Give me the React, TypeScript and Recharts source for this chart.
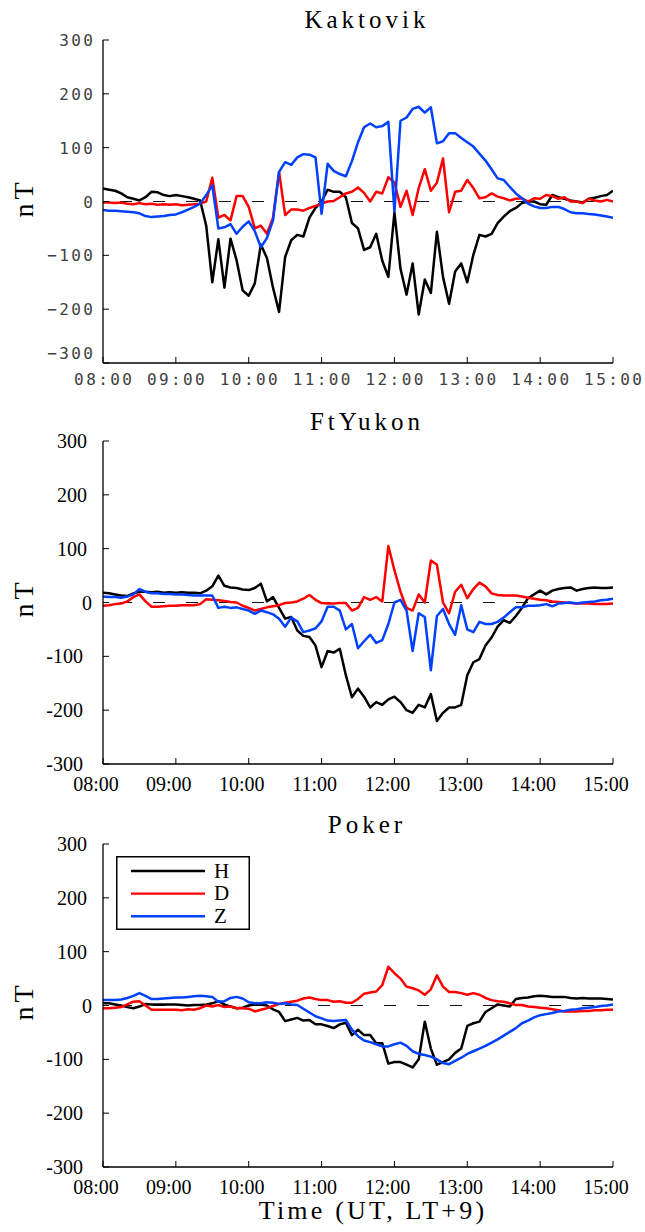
import { LineChart, Line, XAxis, YAxis, ReferenceLine, Legend } from "recharts"

// minutes after 08:00 UT, 5-minute samples
const minutes = Array.from({ length: 85 }, (_, i) => i * 5)
const hourTicks = [0, 60, 120, 180, 240, 300, 360, 420]
const hourLabels = ["08:00", "09:00", "10:00", "11:00", "12:00", "13:00", "14:00", "15:00"]
const nTTicks = [-300, -200, -100, 0, 100, 200, 300]
const seriesNames = ["H", "D", "Z"]
const seriesColors = ["#000000", "#ff0000", "#0040ff"]

const kakH = [
  24, 22, 20, 15, 8, 5, 2, 8, 18, 17, 12, 10,
  12, 10, 8, 5, 2, -45, -150, -70, -160, -69, -109, -165,
  -175, -152, -80, -105, -160, -205, -103, -72, -62, -65, -30, -12,
  0, 22, 18, 18, 8, -40, -50, -90, -85, -60, -110, -140,
  -20, -125, -173, -115, -210, -145, -170, -56, -140, -190, -130, -115,
  -150, -99, -62, -65, -60, -40, -28, -18, -12, -3, 0, 0,
  -5, -6, 12, 8, 5, 2, 0, -2, 5, 7, 10, 12,
  20,
]
const kakD = [
  -2, -2, -3, -2, -4, -5, -3, -5, -4, -6, -5, -6,
  -5, -7, -6, -5, -4, 0, 44, -30, -25, -35, 10, 10,
  -10, -50, -45, -60, -30, 55, -25, -15, -15, -17, -12, -8,
  -4, 0, 1, 8, 15, 18, 26, 16, 0, 18, 15, 45,
  35, -10, 20, -25, 25, 60, 20, 35, 80, -20, 18, 20,
  40, 25, 6, 8, 15, 9, 6, 2, 5, 6, 0, 6,
  5, 12, 10, 5, 8, 0, 0, -3, 5, 2, 0, 3,
  0,
]
const kakZ = [
  -16, -17, -17, -18, -19, -20, -22, -27, -29, -28, -27, -25,
  -24, -20, -15, -10, -4, 12, 30, -50, -48, -42, -60, -47,
  -37, -55, -85, -68, -35, 55, 73, 68, 82, 88, 87, 82,
  -23, 70, 57, 51, 47, 75, 110, 138, 145, 138, 140, 148,
  -19, 150, 156, 172, 176, 165, 175, 108, 112, 127, 127, 118,
  110, 102, 89, 76, 60, 43, 40, 27, 15, 6, -4, -9,
  -12, -12, -10, -10, -14, -20, -22, -22, -23, -24, -26, -28,
  -30,
]

const ftyH = [
  18, 17, 15, 13, 12, 17, 20, 20, 19, 20, 18, 19,
  18, 19, 18, 18, 17, 22, 30, 50, 31, 28, 27, 24,
  23, 27, 35, 2, 10, -10, -30, -27, -52, -62, -64, -80,
  -120, -90, -93, -86, -135, -176, -160, -175, -195, -185, -190, -180,
  -175, -185, -200, -205, -190, -195, -170, -220, -205, -195, -195, -190,
  -135, -111, -105, -80, -65, -45, -33, -38, -25, -10, 8, 15,
  22, 15, 22, 25, 27, 28, 22, 25, 27, 28, 27, 27,
  28,
]
const ftyD = [
  -6, -5, -3, -2, 2, 10, 15, 2, -8, -8, -7, -6,
  -6, -5, -5, -5, -3, 6, 5, 4, 3, 1, 0, -6,
  -10, -15, -12, -9, -7, -5, -1, 0, 2, 7, 14, 5,
  -1, -2, -2, -1, -1, -15, -10, 10, 5, 10, 2, 105,
  60, 20, -10, -15, 15, 0, 78, 70, 0, -20, 20, 33,
  8, 25, 37, 30, 17, 14, 13, 13, 13, 11, 9, 7,
  5, 4, 2, 1, 0, -1, -2, -2, -2, -3, -3, -3,
  -2,
]
const ftyZ = [
  11, 10, 10, 9, 11, 15, 25, 20, 17, 17, 16, 16,
  15, 15, 14, 13, 13, 13, 13, -10, -8, -10, -9, -12,
  -15, -21, -15, -18, -22, -30, -45, -28, -35, -55, -52, -48,
  -35, -8, -8, -15, -50, -40, -85, -72, -60, -75, -70, -40,
  0, 5, -15, -90, -20, -27, -126, -25, -12, -40, -60, -5,
  -50, -55, -36, -40, -40, -36, -28, -18, -9, -9, -6, -6,
  -5, -3, -7, -2, -1, 0, -2, 0, 1, 2, 4, 5,
  7,
]

const pokH = [
  4, 4, 2, 0, -3, -5, -2, 3, 2, 2, 2, 2,
  2, 1, 0, 1, 1, 2, 4, 8, 2, -2, -5, -4,
  0, 2, 2, 0, -7, -12, -29, -26, -23, -28, -27, -35,
  -35, -38, -42, -35, -32, -55, -45, -55, -55, -70, -70, -108,
  -105, -105, -110, -115, -100, -30, -80, -110, -105, -100, -88, -80,
  -38, -33, -30, -12, -5, 2, 0, -2, 12, 14, 15, 17,
  18, 17, 16, 16, 16, 14, 13, 14, 13, 13, 13, 12,
  11,
]
const pokD = [
  -5, -5, -4, -3, 2, 7, 8, 0, -8, -8, -8, -8,
  -8, -9, -7, -8, -5, 0, -2, 1, -3, -2, -5, -5,
  -6, -11, -8, -5, -1, 3, 5, 7, 9, 13, 15, 12,
  10, 10, 7, 8, 5, 5, 12, 22, 24, 26, 38, 72,
  60, 50, 35, 32, 28, 20, 30, 56, 35, 25, 25, 23,
  20, 23, 20, 14, 10, 8, 7, 4, 1, 1, -2, -3,
  -4, -5, -7, -9, -11, -11, -11, -10, -10, -9, -9, -8,
  -8,
]
const pokZ = [
  10, 10, 10, 11, 14, 18, 23, 18, 12, 12, 13, 14,
  15, 15, 16, 17, 18, 17, 16, 7, 8, 14, 16, 13,
  6, 4, 4, 6, 5, 3, 4, 2, 1, -6, -13, -20,
  -24, -28, -29, -28, -27, -45, -57, -65, -68, -72, -76, -76,
  -72, -69, -75, -85, -90, -92, -95, -100, -107, -109, -103, -97,
  -90, -85, -80, -75, -69, -63, -56, -49, -42, -33, -28, -22,
  -18, -16, -14, -11, -10, -8, -7, -5, -4, -3, -1, 0,
  2,
]

const serif = "'Liberation Serif', 'DejaVu Serif', serif"
const mono = "'DejaVu Sans Mono', monospace"

type PanelProps = {
  h: number[]
  d: number[]
  z: number[]
  top: number
  height: number
  bottom: number
  mono?: boolean
  legend?: boolean
}

function monoYTick(p: any) {
  const v = p.payload.value
  const y = v === -300 ? p.y - 10 : p.y
  return (
    <text x={p.x - 13.6} y={y + 6} textAnchor="end" fontFamily={mono} fontSize={16}
      letterSpacing={2.4} fill="#404040">
      {v < 0 ? "\u2212" + Math.abs(v) : v}
    </text>
  )
}

function monoXTick(p: any) {
  const i = hourTicks.indexOf(p.payload.value)
  return (
    <text x={p.x + 1.2} y={p.y + 28} textAnchor="middle" fontFamily={mono} fontSize={16}
      letterSpacing={2.4} fill="#404040">
      {hourLabels[i]}
    </text>
  )
}

function serifYTick(p: any) {
  const v = p.payload.value
  const shift = v > 0 ? -22 : v === 0 ? -17 : -26
  return (
    <text x={p.x + shift} y={p.y + 7} textAnchor="end" fontFamily={serif} fontSize={20} fill="#000">
      {v}
    </text>
  )
}

function serifXTick(p: any) {
  const i = hourTicks.indexOf(p.payload.value)
  return (
    <text x={p.x - 7} y={p.y + 33} textAnchor="middle" fontFamily={serif} fontSize={20} fill="#000">
      {hourLabels[i]}
    </text>
  )
}

function LegendBox(props: any) {
  const items = [...(props.payload || [])].sort(
    (a: any, b: any) => seriesNames.indexOf(a.value) - seriesNames.indexOf(b.value)
  )
  return (
    <svg width={134} height={74} style={{ display: "block" }}>
      <rect x={0.75} y={0.75} width={132.5} height={72.5} fill="#fff" stroke="#000" strokeWidth={1.5} />
      {items.map((e: any, i: number) => (
        <g key={e.value}>
          <line x1={15} x2={89} y1={15 + i * 22.6} y2={15 + i * 22.6} stroke={e.color} strokeWidth={2.4} />
          <text x={98} y={21.5 + i * 22.6} fontFamily={serif} fontSize={21} fill="#000">
            {e.value}
          </text>
        </g>
      ))}
    </svg>
  )
}

function Panel({ h, d, z, top, height, bottom, mono: isMono, legend }: PanelProps) {
  const rows = minutes.map((t, i) => ({ t, H: h[i], D: d[i], Z: z[i] }))
  return (
    <div style={{ position: "absolute", left: 0, top }}>
      <LineChart width={645} height={height} data={rows} margin={{ top: 40, right: 32, bottom, left: 0 }}>
        <XAxis
          dataKey="t"
          type="number"
          domain={[0, 420]}
          ticks={hourTicks}
          interval={0}
          height={30}
          tickSize={-6}
          tickMargin={0}
          axisLine={{ stroke: "#000", strokeWidth: 1.3 }}
          tickLine={{ stroke: "#000", strokeWidth: 1 }}
          tick={isMono ? monoXTick : serifXTick}
          allowDataOverflow
        />
        <YAxis
          type="number"
          domain={[-300, 300]}
          ticks={nTTicks}
          interval={0}
          width={103}
          tickSize={-6}
          tickMargin={0}
          axisLine={{ stroke: "#000", strokeWidth: 1.3 }}
          tickLine={{ stroke: "#000", strokeWidth: 1 }}
          tick={isMono ? monoYTick : serifYTick}
          allowDataOverflow
        />
        <ReferenceLine y={0} stroke="#111" strokeWidth={1.2} strokeDasharray="12 21" strokeDashoffset={16} />
        {seriesNames.map((name, i) => (
          <Line
            key={name}
            type="linear"
            dataKey={name}
            name={name}
            stroke={seriesColors[i]}
            strokeWidth={2.5}
            strokeLinejoin="round"
            dot={false}
            activeDot={false}
            isAnimationActive={false}
          />
        ))}
        {legend && (
          <Legend
            layout="vertical"
            align="center"
            verticalAlign="middle"
            content={LegendBox}
            wrapperStyle={{ left: 116, top: 52, width: 134, height: 74 }}
          />
        )}
      </LineChart>
    </div>
  )
}

const panels = [
  { title: "Kaktovik", h: kakH, d: kakD, z: kakZ, top: 0, height: 402, bottom: 9, mono: true, titleY: 28, nTY: 200 },
  { title: "FtYukon", h: ftyH, d: ftyD, z: ftyZ, top: 401, height: 402, bottom: 9, mono: false, titleY: 430, nTY: 600 },
  { title: "Poker", h: pokH, d: pokD, z: pokZ, top: 804, height: 428, bottom: 35, mono: false, titleY: 833, nTY: 1003 },
]

export default function App() {
  return (
    <div style={{ position: "absolute", left: 0, top: 0, width: 645, height: 1232, background: "#fff" }}>
      {panels.map((p, i) => (
        <Panel key={p.title} {...p} legend={i === 2} />
      ))}
      <svg width={645} height={1232} style={{ position: "absolute", left: 0, top: 0, pointerEvents: "none" }}>
        {panels.map((p) => (
          <g key={p.title}>
            <text x={367} y={p.titleY} textAnchor="middle" fontFamily={serif} fontSize={25} letterSpacing={4} fill="#000">
              {p.title}
            </text>
            <text
              transform={`translate(33, ${p.nTY - 2}) rotate(-90)`}
              textAnchor="middle"
              fontFamily={serif}
              fontSize={28}
              letterSpacing={4}
              fill="#000"
            >
              nT
            </text>
          </g>
        ))}
        <text x={373} y={1219} textAnchor="middle" fontFamily={serif} fontSize={26} letterSpacing={3.2} fill="#000">
          Time (UT, LT+9)
        </text>
      </svg>
    </div>
  )
}
